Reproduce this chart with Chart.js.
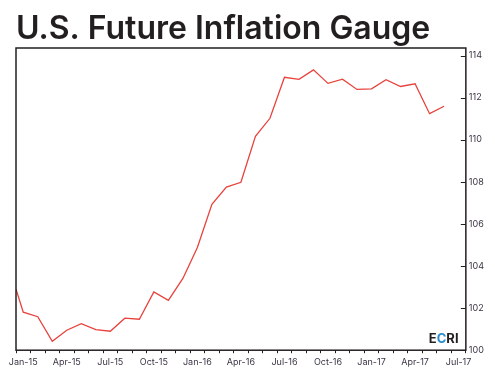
<!DOCTYPE html>
<html>
<head>
<meta charset="utf-8">
<script src="https://cdn.jsdelivr.net/npm/chart.js@4/dist/chart.umd.min.js"></script>
<style>
  body { margin: 0; background: #fff; }
</style>
</head>
<body>
<canvas id="fig" width="495" height="375"></canvas>
<script>
// ---- data ----
const months = ['Jan-15','Feb-15','Mar-15','Apr-15','May-15','Jun-15','Jul-15','Aug-15','Sep-15','Oct-15','Nov-15','Dec-15',
                'Jan-16','Feb-16','Mar-16','Apr-16','May-16','Jun-16','Jul-16','Aug-16','Sep-16','Oct-16','Nov-16','Dec-16',
                'Jan-17','Feb-17','Mar-17','Apr-17','May-17','Jun-17','Jul-17'];
// value where the line enters at the left edge of the plot
const edgeValue = 102.9;
// monthly readings, Jan-15 .. Jun-17
const gauge = [101.81, 101.59, 100.42, 100.95, 101.26, 100.98, 100.90, 101.52, 101.47, 102.77, 102.37, 103.41,
               104.88, 106.93, 107.75, 107.98, 110.16, 111.02, 112.97, 112.87, 113.32, 112.68, 112.88, 112.39,
               112.42, 112.85, 112.53, 112.66, 111.24, 111.59];
const yTicks = [100, 102, 104, 106, 108, 110, 112, 114];
const labelMonths = ['Jan-15','Apr-15','Jul-15','Oct-15','Jan-16','Apr-16','Jul-16','Oct-16','Jan-17','Apr-17','Jul-17'];

const FONT = 'Inter, "Open Sans", sans-serif';
const INK = '#231f20';
const TICK_INK = '#3b3444';

const points = [{ x: 0, y: edgeValue }].concat(gauge.map((v, i) => ({ x: i + 0.5, y: v })));

// frame, inward y tick marks and the ECRI mark
const frame = {
  id: 'frame',
  afterDraw(chart) {
    const c = chart.ctx, a = chart.chartArea, ys = chart.scales.y;
    c.save();
    c.strokeStyle = INK;
    c.lineWidth = 1.5;
    c.strokeRect(a.left, a.top, a.right - a.left, a.bottom - a.top);
    c.lineWidth = 1;
    yTicks.forEach(t => {
      const p = Math.round(ys.getPixelForValue(t)) + 0.5;
      c.beginPath();
      c.moveTo(a.right - 5, p);
      c.lineTo(a.right, p);
      c.stroke();
    });
    // ECRI logo text
    c.font = 'bold 13px ' + FONT;
    c.textBaseline = 'alphabetic';
    let x = a.right - 37, y = a.bottom - 7;
    [['E', INK], ['C', '#2a8cd0'], ['RI', INK]].forEach(([s, col]) => {
      c.fillStyle = col;
      c.fillText(s, x, y);
      x += c.measureText(s).width;
    });
    c.restore();
  }
};

new Chart(document.getElementById('fig').getContext('2d'), {
  type: 'line',
  data: {
    datasets: [{
      data: points,
      borderColor: '#e8423c',
      borderWidth: 1.3,
      pointRadius: 0,
      tension: 0
    }]
  },
  options: {
    responsive: false,
    animation: false,
    events: [],
    layout: { padding: { left: 16, right: 8, top: 0, bottom: 3 } },
    plugins: {
      legend: { display: false },
      tooltip: { enabled: false },
      title: {
        display: true,
        text: 'U.S. Future Inflation Gauge',
        align: 'start',
        color: INK,
        font: { family: FONT, size: 32, weight: '600', lineHeight: 1.05 },
        padding: { top: 12.2, bottom: 2.2 }
      }
    },
    scales: {
      x: {
        type: 'linear',
        min: 0,
        max: months.length,
        afterBuildTicks: axis => { axis.ticks = months.map((m, i) => ({ value: i })).concat({ value: months.length }); },
        grid: { drawOnChartArea: false, tickLength: 3, color: INK },
        border: { display: false },
        ticks: { display: false }
      },
      x2: {
        type: 'linear',
        position: 'bottom',
        min: 0,
        max: months.length,
        afterBuildTicks: axis => {
          axis.ticks = labelMonths.map(m => ({ value: months.indexOf(m) + 0.5 }));
        },
        grid: { display: false, drawTicks: false },
        border: { display: false },
        ticks: {
          autoSkip: false,
          maxRotation: 0,
          padding: 4,
          color: TICK_INK,
          font: { family: FONT, size: 9 },
          callback: v => months[Math.floor(v)]
        }
      },
      y: {
        position: 'right',
        min: 100,
        max: 114.36,
        afterBuildTicks: axis => { axis.ticks = yTicks.map(v => ({ value: v })); },
        grid: { display: false, drawTicks: false },
        border: { display: false },
        ticks: {
          padding: 3,
          color: TICK_INK,
          font: { family: FONT, size: 9 }
        }
      }
    }
  },
  plugins: [frame]
});
</script>
</body>
</html>
